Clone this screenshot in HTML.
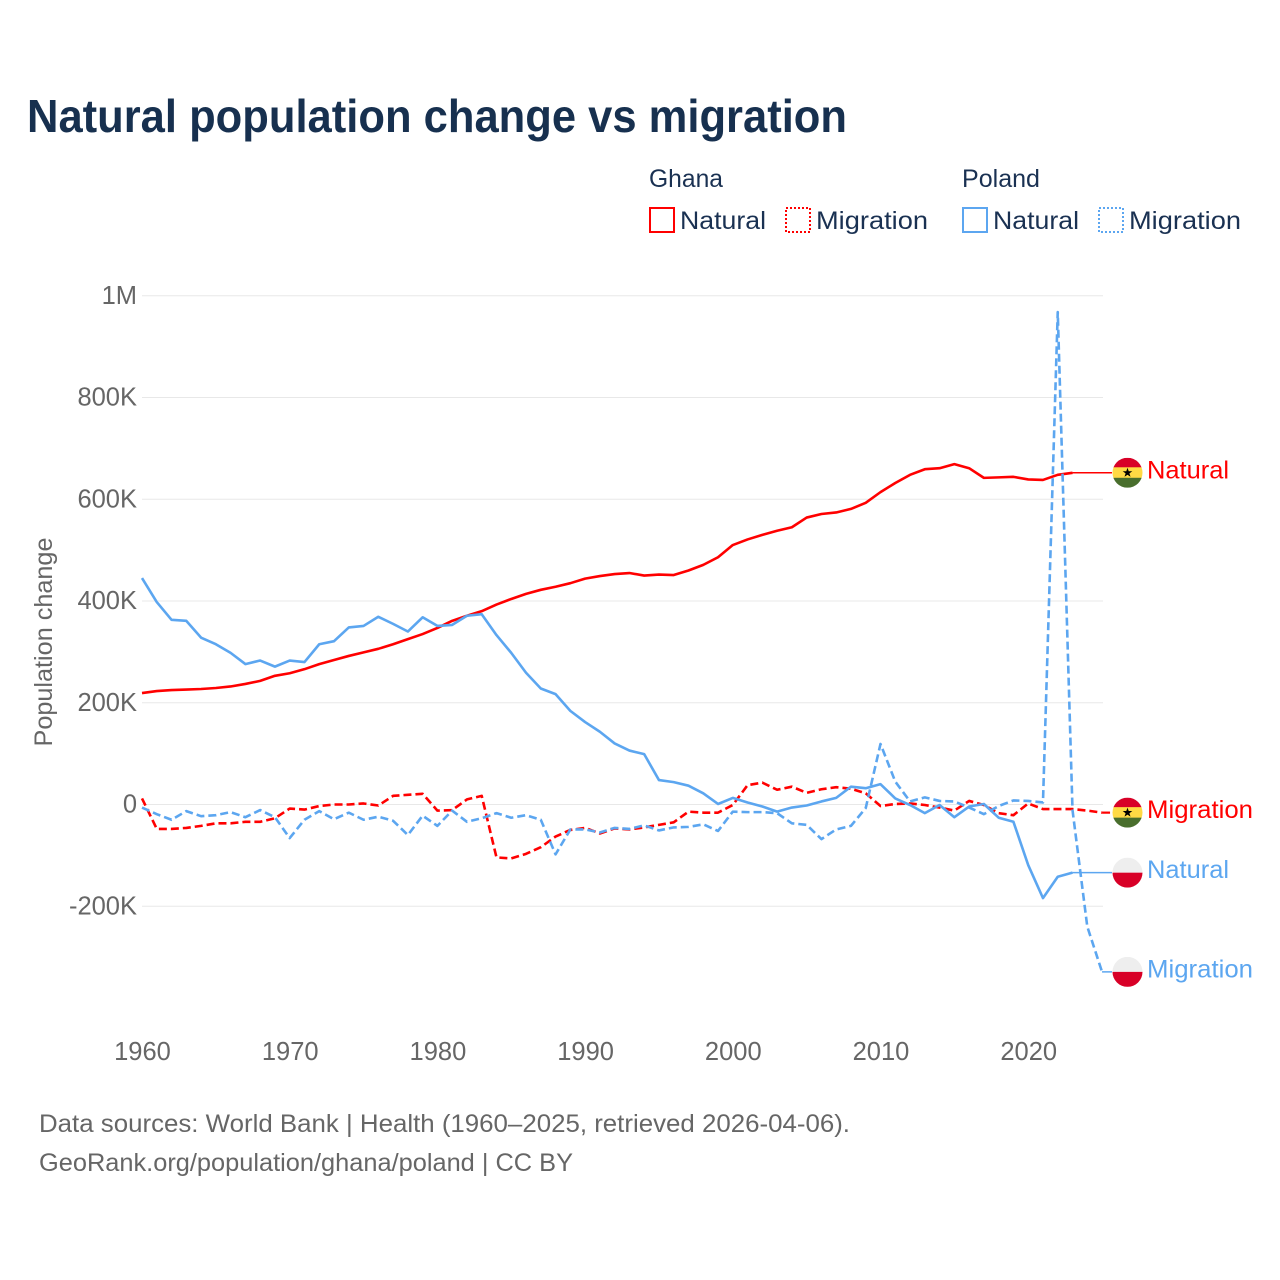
<!DOCTYPE html>
<html lang="en">
<head>
<meta charset="utf-8">
<title>Natural population change vs migration</title>
<style>
html,body{margin:0;padding:0;background:#fff;width:1280px;height:1280px;overflow:hidden}
svg{display:block;font-family:"Liberation Sans",sans-serif}
</style>
</head>
<body>
<svg id="chart" xmlns="http://www.w3.org/2000/svg" width="1280" height="1280" viewBox="0 0 1280 1280">
  <defs>
    <clipPath id="flag-clip"><circle cx="0" cy="0" r="15"/></clipPath>
  </defs>
  <rect x="0" y="0" width="1280" height="1280" fill="#fff"/>
  <text x="27" y="132" font-size="46" font-weight="700" fill="#17304f" textLength="820" lengthAdjust="spacingAndGlyphs">Natural population change vs migration</text>

  <g font-size="25" fill="#1a3152">
    <text x="649" y="187" textLength="74" lengthAdjust="spacingAndGlyphs">Ghana</text>
    <text x="962" y="187" textLength="78" lengthAdjust="spacingAndGlyphs">Poland</text>
    <g>
      <rect x="650" y="208" width="24" height="24" fill="none" stroke="#ff0000" stroke-width="2"/>
      <text x="680" y="229" textLength="86" lengthAdjust="spacingAndGlyphs">Natural</text>
    </g>
    <g>
      <rect x="786" y="208" width="24" height="24" fill="none" stroke="#ff0000" stroke-width="2" stroke-dasharray="2,2"/>
      <text x="816" y="229" textLength="112" lengthAdjust="spacingAndGlyphs">Migration</text>
    </g>
    <g>
      <rect x="963" y="208" width="24" height="24" fill="none" stroke="#5ca6f0" stroke-width="2"/>
      <text x="993" y="229" textLength="86" lengthAdjust="spacingAndGlyphs">Natural</text>
    </g>
    <g>
      <rect x="1099" y="208" width="24" height="24" fill="none" stroke="#5ca6f0" stroke-width="2" stroke-dasharray="2,2"/>
      <text x="1129" y="229" textLength="112" lengthAdjust="spacingAndGlyphs">Migration</text>
    </g>
  </g>

  <g id="grid"></g>
  <g id="y-axis" font-size="25.5" fill="#666"></g>
  <g id="x-axis" font-size="25.5" fill="#666"></g>
  <text transform="translate(52,642) rotate(-90)" text-anchor="middle" font-size="25" fill="#666" textLength="209" lengthAdjust="spacingAndGlyphs">Population change</text>
  <g id="series"></g>
  <g id="ends"></g>

  <g font-size="25" fill="#666">
    <text x="39" y="1132" textLength="811" lengthAdjust="spacingAndGlyphs">Data sources: World Bank | Health (1960–2025, retrieved 2026-04-06).</text>
    <text x="39" y="1171" textLength="534" lengthAdjust="spacingAndGlyphs">GeoRank.org/population/ghana/poland | CC BY</text>
  </g>
</svg>

<script>
const firstYear = 1960;
const xTickYears = [1960, 1970, 1980, 1990, 2000, 2010, 2020];
const yTickValues = [1000, 800, 600, 400, 200, 0, -200];
const yTickLabels = ["1M", "800K", "600K", "400K", "200K", "0", "-200K"];

// Values in thousands of people, one per year starting 1960
const ghanaNatural = [
  219,223,225,226,227,229,232,237,243,253,
  258,266,276,284,292,299,306,315,325,335,
  347,361,371,380,393,404,414,422,428,435,
  444,449,453,455,450,452,451,460,471,486,
  510,521,530,538,545,564,571,574,581,593,
  614,632,648,659,661,669,661,642,643,644,
  639,638,648,652
];
const ghanaMigration = [
  12,-48,-48,-46,-42,-37,-37,-34,-34,-27,
  -8,-10,-3,0,0,2,-2,17,19,21,
  -12,-11,10,17,-104,-106,-97,-84,-63,-50,
  -46,-57,-47,-49,-45,-40,-35,-14,-16,-16,
  -1,38,43,29,35,23,30,34,31,22,
  -3,1,2,-1,-6,-12,7,-1,-17,-21,
  2,-9,-9,-9,-12,-16
];
const polandNatural = [
  445,398,363,361,328,315,298,276,283,271,
  283,280,315,321,348,351,369,355,340,368,
  351,353,371,374,333,298,259,228,217,184,
  162,143,120,106,99,48,44,37,22,1,
  13,4,-4,-14,-6,-2,6,13,35,32,
  40,12,-1,-17,-1,-25,-4,1,-26,-34,
  -119,-184,-142,-134
];
const polandMigration = [
  -6,-19,-30,-13,-23,-21,-15,-25,-11,-25,
  -66,-30,-13,-29,-16,-30,-24,-32,-60,-22,
  -42,-12,-34,-27,-17,-26,-21,-30,-98,-49,
  -49,-55,-46,-48,-41,-51,-45,-44,-39,-52,
  -14,-15,-15,-17,-37,-40,-68,-49,-42,-7,
  119,45,6,14,7,6,-6,-19,-3,8,
  7,4,968,-11,-240,-329
];

const RED = "#ff0000";
const BLUE = "#5ca6f0";
const NS = "http://www.w3.org/2000/svg";

function xScale(year) { return 142 + (year - firstYear) * 14.77; }
function yScale(value) { return 804.5 - value * 0.50875; }
function make(tag, attrs) {
  const el = document.createElementNS(NS, tag);
  for (const k in attrs) el.setAttribute(k, attrs[k]);
  return el;
}

const grid = document.getElementById("grid");
const yAxis = document.getElementById("y-axis");
const xAxis = document.getElementById("x-axis");
const seriesLayer = document.getElementById("series");
const endLayer = document.getElementById("ends");

yTickValues.forEach(function (v, i) {
  const line = make("line", { x1: 142, x2: 1103, y1: yScale(v), y2: yScale(v), stroke: "#e8e8e8", "stroke-width": 1 });
  
  
  grid.appendChild(line);
  const label = make("text", { x: 137, y: yScale(v) + 8, "text-anchor": "end" });
  
  
  label.textContent = yTickLabels[i];
  yAxis.appendChild(label);
});

xTickYears.forEach(function (year) {
  const label = make("text", { x: xScale(year) + 0.5, y: 1060, "text-anchor": "middle" });
  
  
  label.textContent = String(year);
  xAxis.appendChild(label);
});

function drawSeries(values, color, dashed, name) {
  const d = values.map(function (v, i) {
    return (i ? "L" : "M") + xScale(firstYear + i).toFixed(2) + " " + yScale(v).toFixed(2);
  }).join(" ");
  const attrs = { d: d, fill: "none", stroke: color, "stroke-width": 2.6, "stroke-linejoin": "round" };
  if (dashed) attrs["stroke-dasharray"] = "8,4";
  const path = make("path", attrs);
  
  
  seriesLayer.appendChild(path);
}

function drawEnd(values, color, dashed, flag, text, name) {
  const last = values[values.length - 1];
  const lastX = xScale(firstYear + values.length - 1);
  const y = yScale(last);
  const attrs = { x1: lastX, x2: 1112, y1: y, y2: y, stroke: color, "stroke-width": dashed ? 2.2 : 1.5 };
  if (dashed) attrs["stroke-dasharray"] = "8,4";
  const conn = make("line", attrs);
  
  
  endLayer.appendChild(conn);

  const g = make("g", { transform: "translate(1127.5," + y.toFixed(2) + ")", "clip-path": "url(#flag-clip)" });
  
  
  if (flag === "ghana") {
    g.appendChild(make("rect", { x: -15, y: -15, width: 30, height: 10, fill: "#d80027" }));
    g.appendChild(make("rect", { x: -15, y: -5.5, width: 30, height: 11, fill: "#ffda44" }));
    g.appendChild(make("rect", { x: -15, y: 5, width: 30, height: 10, fill: "#496e2d" }));
    g.appendChild(make("polygon", { points: "0,-5 1.2,-1.6 4.8,-1.6 1.9,0.6 3,4 0,2 -3,4 -1.9,0.6 -4.8,-1.6 -1.2,-1.6", fill: "#000" }));
  } else {
    g.appendChild(make("rect", { x: -15, y: -15, width: 30, height: 15, fill: "#eeeeee" }));
    g.appendChild(make("rect", { x: -15, y: 0, width: 30, height: 15, fill: "#d80027" }));
  }
  endLayer.appendChild(g);

  const label = make("text", { x: 1147, y: y + 5.5, "font-size": 25, fill: color, textLength: text === "Natural" ? 82 : 106, lengthAdjust: "spacingAndGlyphs" });
  
  
  label.textContent = text;
  endLayer.appendChild(label);
}

drawSeries(ghanaNatural, RED, false, "ghana-natural-line");
drawSeries(ghanaMigration, RED, true, "ghana-migration-line");
drawSeries(polandNatural, BLUE, false, "poland-natural-line");
drawSeries(polandMigration, BLUE, true, "poland-migration-line");

drawEnd(ghanaNatural, RED, false, "ghana", "Natural", "ghana-natural");
drawEnd(ghanaMigration, RED, true, "ghana", "Migration", "ghana-migration");
drawEnd(polandNatural, BLUE, false, "poland", "Natural", "poland-natural");
drawEnd(polandMigration, BLUE, false, "poland", "Migration", "poland-migration");
</script>
</body>
</html>
